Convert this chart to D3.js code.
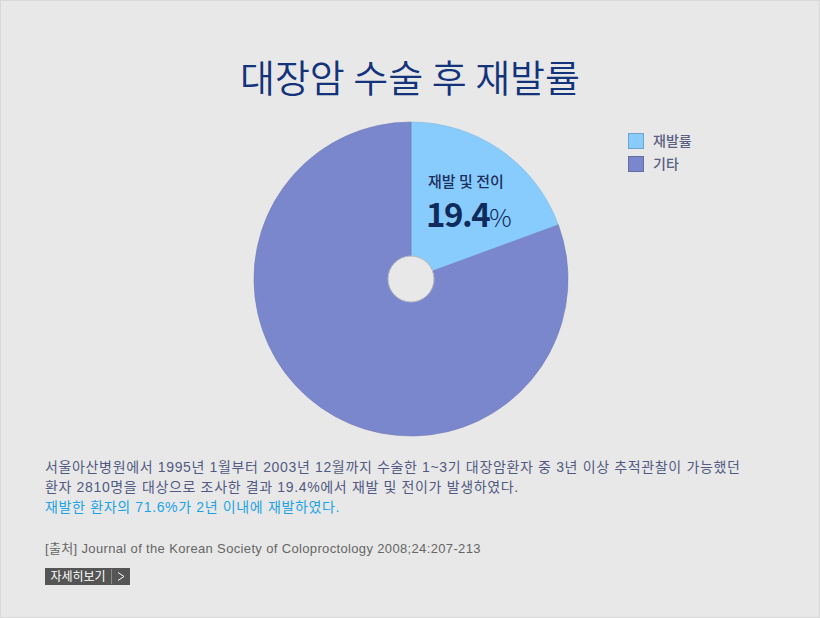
<!DOCTYPE html>
<html>
<head>
<meta charset="utf-8">
<script src="https://cdn.jsdelivr.net/npm/d3@7"></script>
<style>
  html, body { margin: 0; padding: 0; background: #e8e8e8; }
  svg { display: block; }
</style>
</head>
<body>
<svg id="chart" width="820" height="618"></svg>
<script>
// chart values
const categories = ['재발률', '기타'];
const values = [19.4, 80.6];
const sliceColors = ['#88ccfe', '#7b87cc'];
const sliceLabel = '재발 및 전이';

const title = '대장암 수술 후 재발률';
const notes = [
    '서울아산병원에서 1995년 1월부터 2003년 12월까지 수술한 1~3기 대장암환자 중 3년 이상 추적관찰이 가능했던',
    '환자 2810명을 대상으로 조사한 결과 19.4%에서 재발 및 전이가 발생하였다.'
];
const highlight = '재발한 환자의 71.6%가 2년 이내에 재발하였다.';
const source = '[출처] Journal of the Korean Society of Coloproctology 2008;24:207-213';
const buttonText = '자세히보기';

const font = "'Noto Sans CJK KR', 'Noto Sans', sans-serif";
const bodyFont = "'Liberation Sans', 'Noto Sans CJK KR', sans-serif";

let svg = d3.select('#chart');

// outer frame
svg.append('rect')
    .attr('x', 0.5).attr('y', 0.5)
    .attr('width', 819).attr('height', 617)
    .attr('fill', '#e8e8e8')
    .attr('stroke', '#d8d8d8');

svg.append('text')
    .attr('x', 410).attr('y', 92)
    .attr('text-anchor', 'middle')
    .attr('font-family', font)
    .attr('font-size', 38)
    .attr('font-weight', 350)
    .attr('fill', '#13337a')
    .text(title);

// pie
let cx = 411, cy = 279, r = 157;
let pie = d3.pie().sort(null).value(d => d);
let arc = d3.arc().innerRadius(0).outerRadius(r);
let color = d3.scaleOrdinal().domain(categories).range(sliceColors);

let g = svg.append('g').attr('transform', 'translate(' + cx + ',' + cy + ')');
g.selectAll('path')
    .data(pie(values))
    .enter()
    .append('path')
    .attr('d', arc)
    .attr('fill', (d, i) => color(categories[i]))
    .attr('stroke', (d, i) => d3.color(color(categories[i])).darker(0.3))
    .attr('stroke-width', 0.6);

// hole in the middle
g.append('circle')
    .attr('r', 23)
    .attr('fill', '#e8e8e8')
    .attr('stroke', '#b8b8c0')
    .attr('stroke-width', 1);

// slice label
svg.append('text')
    .attr('x', 428).attr('y', 187)
    .attr('font-family', font)
    .attr('font-size', 15)
    .attr('font-weight', 500)
    .attr('fill', '#1d2f5c')
    .text(sliceLabel);

let pct = svg.append('text')
    .attr('x', 426).attr('y', 227)
    .attr('font-family', font)
    .attr('fill', '#102a5c');
pct.append('tspan')
    .attr('font-size', 33)
    .attr('font-weight', 700)
    .attr('letter-spacing', -1.5)
    .text(values[0]);
pct.append('tspan')
    .attr('font-size', 25)
    .attr('font-weight', 300)
    .text('%');

// legend
let legend = svg.append('g').attr('transform', 'translate(628,133)');
let items = legend.selectAll('g')
    .data(categories)
    .enter()
    .append('g')
    .attr('transform', (d, i) => 'translate(0,' + i * 23 + ')');
items.append('rect')
    .attr('x', 0.5).attr('y', 0.5)
    .attr('width', 15).attr('height', 15)
    .attr('fill', d => color(d))
    .attr('stroke', d => d3.color(color(d)).darker(0.6));
items.append('text')
    .attr('x', 25).attr('y', 13)
    .attr('font-family', font)
    .attr('font-size', 14)
    .attr('font-weight', 500)
    .attr('fill', '#5b6080')
    .text(d => d);

// notes under the chart
svg.selectAll('text.note')
    .data(notes)
    .enter()
    .append('text')
    .attr('class', 'note')
    .attr('x', 45)
    .attr('y', (d, i) => 472 + i * 20)
    .attr('font-family', bodyFont)
    .attr('font-size', 14)
    .attr('letter-spacing', 0.65)
    .attr('fill', '#525a82')
    .text(d => d);

svg.append('text')
    .attr('x', 45).attr('y', 512)
    .attr('font-family', bodyFont)
    .attr('font-size', 14)
    .attr('letter-spacing', 0.65)
    .attr('fill', '#1ca3e6')
    .text(highlight);

svg.append('text')
    .attr('x', 45).attr('y', 553)
    .attr('font-family', bodyFont)
    .attr('font-size', 13)
    .attr('letter-spacing', 0.35)
    .attr('fill', '#666666')
    .text(source);

// button
let btn = svg.append('g').attr('transform', 'translate(45,568)');
btn.append('rect')
    .attr('width', 85).attr('height', 17)
    .attr('fill', '#555555');
btn.append('line')
    .attr('x1', 66.5).attr('x2', 66.5)
    .attr('y1', 1).attr('y2', 16)
    .attr('stroke', '#888888');
btn.append('text')
    .attr('x', 33).attr('y', 13)
    .attr('text-anchor', 'middle')
    .attr('font-family', font)
    .attr('font-size', 12)
    .attr('fill', '#ffffff')
    .text(buttonText);
btn.append('path')
    .attr('d', 'M73,4.5 L79,8.5 L73,12.5')
    .attr('fill', 'none')
    .attr('stroke', '#ffffff')
    .attr('stroke-width', 1);
</script>
</body>
</html>
